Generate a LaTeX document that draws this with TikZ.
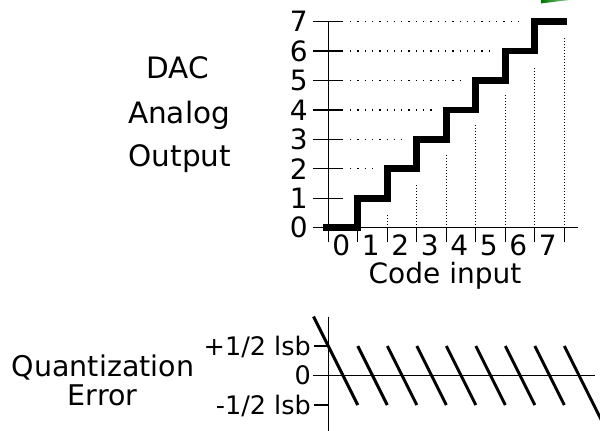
\documentclass[tikz,border=0pt]{standalone}
\usepackage{fontspec}
\setmainfont{DejaVu Sans}
\begin{document}
\begin{tikzpicture}[x=1pt,y=-1pt,
  axis/.style={line width=1.3pt},
  stair/.style={line width=6.7pt, line join=miter},
  saw/.style={line width=3pt},
  hdot/.style={line width=1.3pt, dash pattern=on 1.3pt off 6pt},
  vdot/.style={line width=1.1pt, dash pattern=on 1.1pt off 1.9pt},
  biglab/.style={inner sep=0pt, font=\fontsize{29.5}{30}\selectfont},
  numlab/.style={inner sep=0pt, font=\fontsize{28}{30}\selectfont},
  errlab/.style={inner sep=0pt, font=\fontsize{28.5}{30}\selectfont},
  ticklab/.style={inner sep=0pt, font=\fontsize{25.5}{27}\selectfont}]
\useasboundingbox (0,0) rectangle (600,431);
\clip (0,0) rectangle (600,431);

% green fragment at the top edge
\shade[left color={rgb,255:red,0;green,115;blue,0}, right color={rgb,255:red,150;green,215;blue,150}]
  (541,0) -- (570,0) -- (541,3.4) -- cycle;

% ---- upper plot: DAC transfer function ----
% dotted guide lines
\foreach \k in {2,...,8}
  \draw[vdot] ({328.3+29.5*\k},227.7) -- ({328.3+29.5*\k},{227.7-29.43*(\k-1.5)});
\foreach \n in {2,...,7}
  \draw[hdot] (350,{227.7-29.43*\n}) -- ({328.3+29.5*(\n-0.5)},{227.7-29.43*\n});

% axes and ticks
\draw[axis] (328.3,21.7) -- (328.3,242);
\draw[axis] (313,227.7) -- (578,227.7);
\foreach \n in {0,...,7}
  \draw[axis] (313,{227.7-29.43*\n}) -- (343,{227.7-29.43*\n});
\foreach \k in {0,...,8}
  \draw[axis] ({328.3+29.5*\k},227.7) -- ({328.3+29.5*\k},242);

% staircase
\draw[stair] (323,227.7) -| (357.8,198.3) -| (387.3,168.8) -| (416.8,139.4)
  -| (446.3,110.0) -| (475.8,80.6) -| (505.3,51.1) -| (534.8,21.7) -- (567,21.7);

% axis labels
\foreach \n in {0,...,7}
  \node[numlab, anchor=base east] (y\n) at (308,{227.7-29.43*\n+10.2}) {\n};
\foreach \k in {0,...,7}
  \node[numlab, anchor=base] (x\k) at ({328.3+29.5*\k+13},255) {\k};
\node[numlab, anchor=base] (code) at (445,283.3) {Code input};

\node[biglab, anchor=base] (dac) at (178,78.3) {DAC};
\node[biglab, anchor=base] (analog) at (179,123.3) {Analog};
\node[biglab, anchor=base] (output) at (180,166.7) {Output};

% ---- lower plot: quantization error ----
\draw[axis] (328.3,316.7) -- (328.3,435);
\draw[axis] (313,375.5) -- (595,375.5);
\draw[axis] (314,346) -- (328.3,346);
\draw[axis] (314,405) -- (328.3,405);

\draw[saw] (313.55,316.5) -- (357.8,405);
\foreach \k in {1,...,7}
  \draw[saw] ({328.3+29.5*\k},346) -- ({328.3+29.5*(\k+1)},405);
\draw[saw] (564.3,346) -- (608.55,434.5);

\node[ticklab, anchor=base east] (plus) at (311,355.5) {+1/2 lsb};
\node[ticklab, anchor=base east] (zero) at (311,384.8) {0};
\node[ticklab, anchor=base east] (minus) at (311,414.5) {-1/2 lsb};

\node[errlab, anchor=base] (quant) at (103,376.7) {Quantization};
\node[errlab, anchor=base] (err) at (102.5,405) {Error};
\end{tikzpicture}
\end{document}
